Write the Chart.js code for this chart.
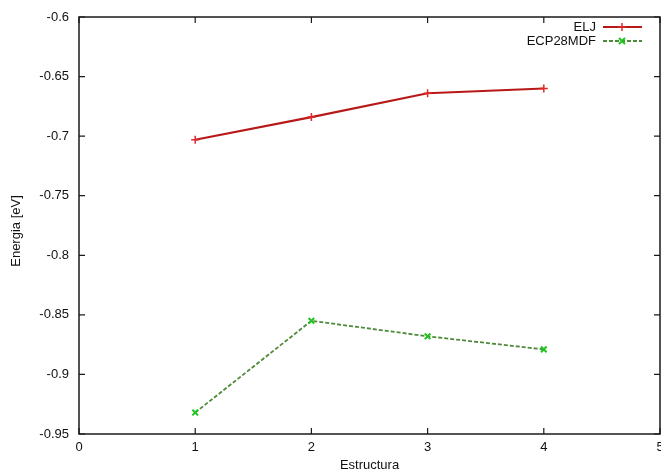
<!DOCTYPE html>
<html>
<head>
<meta charset="utf-8">
<script src="https://cdn.jsdelivr.net/npm/chart.js@4"></script>
<style>
  html, body { margin: 0; padding: 0; background: #fff; }
  #wrap { width: 661px; height: 474px; position: relative; }
</style>
</head>
<body>
<div id="wrap"><canvas id="energyChart"></canvas></div>
<script>
// structures 1..4, energies in eV
const estructuras = [1, 2, 3, 4];
const eljEnergia = [-0.703, -0.684, -0.664, -0.660];
const ecpEnergia = [-0.932, -0.855, -0.868, -0.879];
const xTicks = [0, 1, 2, 3, 4, 5];
const yTicks = [-0.95, -0.9, -0.85, -0.8, -0.75, -0.7, -0.65, -0.6];

const FONT = "'Liberation Sans', Arial, sans-serif";

function toPoints(ys) {
  return estructuras.map((x, i) => ({ x: x, y: ys[i] }));
}

// gnuplot-style frame: border, inward ticks on all sides, key and axis titles
const gnuplotFrame = {
  id: "gnuplotFrame",
  afterDraw(chart) {
    const { ctx, chartArea: a, scales } = chart;
    const xs = scales.x, ys = scales.y;
    ctx.save();
    ctx.strokeStyle = "#1a1a1a";
    ctx.lineWidth = 1.5;
    ctx.strokeRect(a.left, a.top, a.right - a.left, a.bottom - a.top);

    const tl = 6;
    ctx.lineWidth = 1.2;
    ctx.beginPath();
    xTicks.forEach(v => {
      const px = xs.getPixelForValue(v);
      ctx.moveTo(px, a.bottom); ctx.lineTo(px, a.bottom - tl);
      ctx.moveTo(px, a.top); ctx.lineTo(px, a.top + tl);
    });
    yTicks.forEach(v => {
      const py = ys.getPixelForValue(v);
      ctx.moveTo(a.left, py); ctx.lineTo(a.left + tl, py);
      ctx.moveTo(a.right, py); ctx.lineTo(a.right - tl, py);
    });
    ctx.stroke();

    // key
    ctx.font = "13px " + FONT;
    ctx.fillStyle = "#111";
    ctx.textAlign = "right";
    ctx.textBaseline = "middle";
    chart.data.datasets.forEach((ds, i) => {
      const y = 27 + i * 14;
      ctx.fillText(ds.label, 596, y);
      ctx.strokeStyle = ds.borderColor;
      ctx.lineWidth = ds.borderWidth;
      ctx.setLineDash(ds.borderDash || []);
      ctx.beginPath();
      ctx.moveTo(603, y); ctx.lineTo(642, y);
      ctx.stroke();
      ctx.setLineDash([]);
      ctx.strokeStyle = ds.pointBorderColor;
      ctx.lineWidth = ds.pointBorderWidth;
      const r = ds.pointRadius;
      ctx.beginPath();
      if (ds.pointStyle === "cross") {
        ctx.moveTo(622 - r, y); ctx.lineTo(622 + r, y);
        ctx.moveTo(622, y - r); ctx.lineTo(622, y + r);
      } else {
        const d = r * 0.75;
        ctx.moveTo(622 - d, y - d); ctx.lineTo(622 + d, y + d);
        ctx.moveTo(622 - d, y + d); ctx.lineTo(622 + d, y - d);
      }
      ctx.stroke();
    });

    // axis titles
    ctx.fillStyle = "#111";
    ctx.textAlign = "center";
    ctx.fillText("Estructura", (a.left + a.right) / 2, 465);
    ctx.translate(16, 231);
    ctx.rotate(-Math.PI / 2);
    ctx.fillText("Energia [eV]", 0, 0);
    ctx.restore();
  }
};

new Chart(document.getElementById("energyChart"), {
  type: "scatter",
  data: {
    datasets: [
      {
        label: "ELJ",
        data: toPoints(eljEnergia),
        showLine: true,
        borderColor: "#b81818",
        borderWidth: 2.2,
        pointStyle: "cross",
        pointRadius: 4,
        pointBorderColor: "#e02828",
        pointBorderWidth: 1.5,
        backgroundColor: "transparent"
      },
      {
        label: "ECP28MDF",
        data: toPoints(ecpEnergia),
        showLine: true,
        borderColor: "#4f8a3a",
        borderWidth: 1.8,
        borderDash: [4, 2],
        pointStyle: "crossRot",
        pointRadius: 4,
        pointBorderColor: "#1fc41f",
        pointBorderWidth: 2,
        backgroundColor: "transparent"
      }
    ]
  },
  options: {
    responsive: true,
    maintainAspectRatio: false,
    animation: false,
    layout: { autoPadding: false, padding: { top: 17, right: 1, left: 0, bottom: 0 } },
    plugins: { legend: { display: false }, tooltip: { enabled: false } },
    scales: {
      x: {
        type: "linear",
        min: 0, max: 5,
        afterFit(scale) { scale.height = 40; scale.paddingLeft = 0; scale.paddingRight = 0; },
        afterBuildTicks(scale) { scale.ticks = xTicks.map(v => ({ value: v })); },
        grid: { display: false, drawTicks: false },
        border: { display: false },
        ticks: { color: "#111", font: { family: FONT, size: 13 }, padding: 6, maxRotation: 0,
                 callback: v => String(v) }
      },
      y: {
        type: "linear",
        min: -0.95, max: -0.6,
        afterFit(scale) { scale.width = 79; scale.paddingTop = 0; scale.paddingBottom = 0; },
        afterBuildTicks(scale) { scale.ticks = yTicks.map(v => ({ value: v })); },
        grid: { display: false, drawTicks: false },
        border: { display: false },
        ticks: { color: "#111", font: { family: FONT, size: 13 }, padding: 10,
                 callback: v => String(Math.round(v * 100) / 100) }
      }
    }
  },
  plugins: [gnuplotFrame]
});
</script>
</body>
</html>
